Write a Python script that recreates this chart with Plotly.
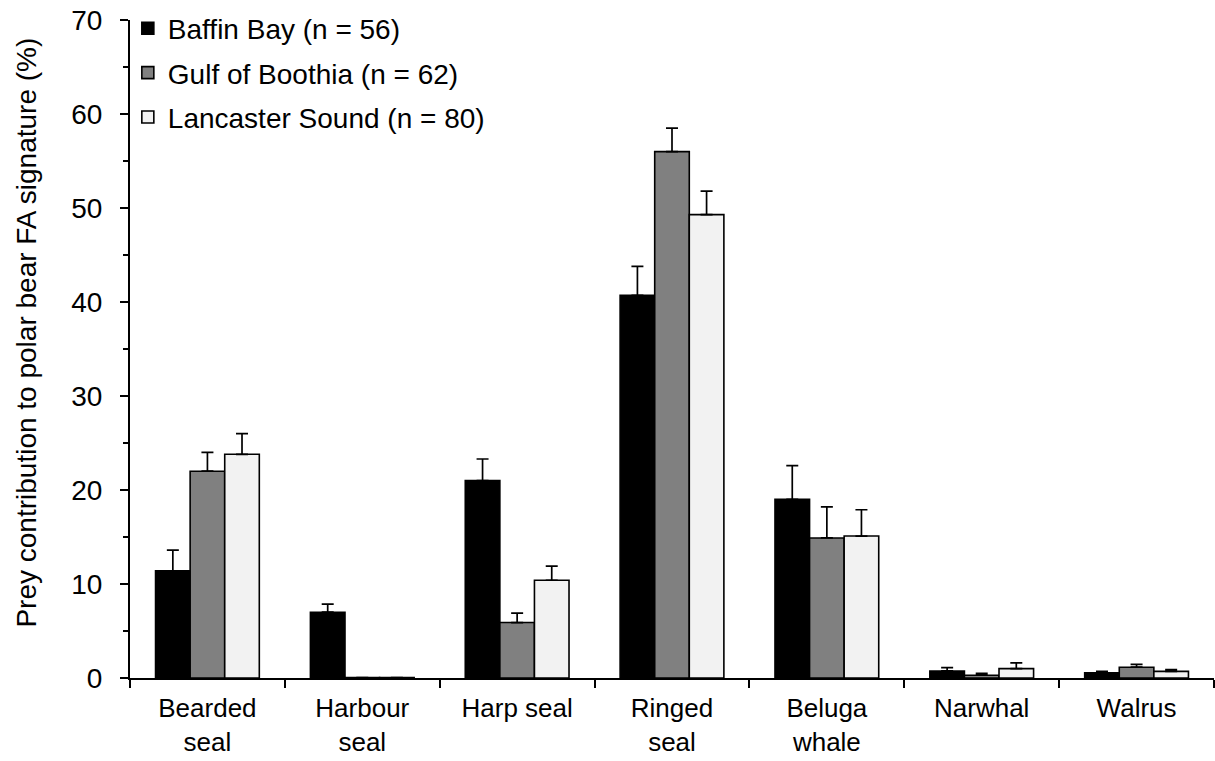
import plotly.graph_objects as go

# Prey categories (two-line tick labels)
categories = ["Bearded<br>seal", "Harbour<br>seal", "Harp seal", "Ringed<br>seal",
              "Beluga<br>whale", "Narwhal", "Walrus"]

# Mean prey contribution (%) per region
baffin_bay = [11.4, 7.0, 21.0, 40.7, 19.0, 0.75, 0.55]
gulf_of_boothia = [22.0, 0.05, 5.9, 56.0, 14.9, 0.3, 1.15]
lancaster_sound = [23.8, 0.05, 10.4, 49.3, 15.1, 1.0, 0.7]

# Upper error (SE) per region
baffin_err = [2.2, 0.85, 2.3, 3.1, 3.6, 0.35, 0.15]
gulf_err = [2.0, 0.0, 1.0, 2.5, 3.3, 0.2, 0.3]
lancaster_err = [2.2, 0.0, 1.5, 2.5, 2.8, 0.6, 0.2]

series_names = ["Baffin Bay (n = 56)", "Gulf of Boothia (n = 62)", "Lancaster Sound (n = 80)"]
fill_colors = ["#000000", "#808080", "#f2f2f2"]

FONT = "Liberation Sans, Arial, sans-serif"
FS = 28

fig = go.Figure()
for i, (name, vals, errs, col) in enumerate(zip(
        series_names,
        [baffin_bay, gulf_of_boothia, lancaster_sound],
        [baffin_err, gulf_err, lancaster_err],
        fill_colors)):
    fig.add_trace(go.Bar(
        x=categories, y=vals, name=name,
        legendgroup=f"g{i}",
        marker=dict(color=col, line=dict(color="#000000", width=1.6)),
        error_y=dict(type="data", array=errs, arrayminus=[0] * len(errs),
                     symmetric=False, color="#000000", thickness=1.7, width=6),
    ))

fig.update_layout(
    width=1215, height=761,
    margin=dict(l=130, r=1, t=20, b=83),
    paper_bgcolor="white", plot_bgcolor="white",
    barmode="group", bargap=0.33, bargroupgap=0,
    font=dict(family=FONT, size=FS, color="#000000"),
    showlegend=True,
    legend=dict(x=-0.002, y=1.025, xanchor="left", yanchor="top",
                traceorder="grouped", tracegroupgap=5,
                font=dict(family=FONT, size=FS), bgcolor="rgba(0,0,0,0)",
                itemwidth=30),
)

fig.update_xaxes(
    type="category", showline=True, linecolor="#000000", linewidth=2,
    ticks="outside", tickson="boundaries", ticklen=8, tickwidth=1.5,
    tickcolor="#000000", showgrid=False, zeroline=False, automargin=False,
    tickfont=dict(family=FONT, size=26), ticklabelstandoff=6,
)

fig.update_yaxes(
    range=[0, 70], dtick=10, showline=True, linecolor="#000000", linewidth=2,
    ticks="outside", ticklen=8, tickwidth=1.5, tickcolor="#000000",
    minor=dict(dtick=5, ticks="outside", ticklen=5, tickwidth=1.5, tickcolor="#000000"),
    showgrid=False, zeroline=False, automargin=False,
    tickfont=dict(family=FONT, size=FS), ticklabelstandoff=12,
)

# Y-axis title placed as a rotated annotation, a little above the plot's mid-height
fig.add_annotation(
    text="Prey contribution to polar bear FA signature (%)",
    xref="paper", yref="paper", x=-0.095, y=0.525,
    xanchor="center", yanchor="middle", textangle=-90, showarrow=False,
    font=dict(family=FONT, size=FS, color="#000000"),
)

fig.write_html("out.html")
